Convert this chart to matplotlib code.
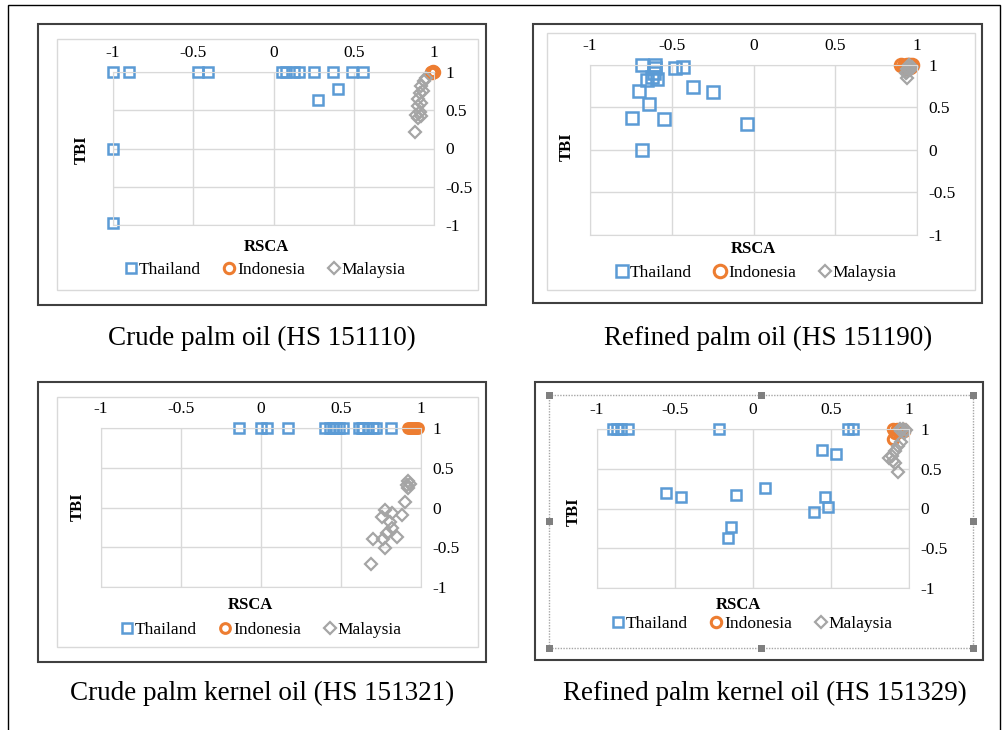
import matplotlib
matplotlib.use("Agg")
import matplotlib.pyplot as plt
from matplotlib.patches import Rectangle

plt.rcParams['font.family'] = ['Liberation Serif', 'DejaVu Serif']
plt.rcParams['axes.unicode_minus'] = False

W, H = 1005, 730

ticks = [-1, -0.5, 0, 0.5, 1]
tick_labels = ["-1", "-0.5", "0", "0.5", "1"]
countries = ["Thailand", "Indonesia", "Malaysia"]
captions = ["Crude palm oil (HS 151110)", "Refined palm oil (HS 151190)",
            "Crude palm kernel oil (HS 151321)", "Refined palm kernel oil (HS 151329)"]

# crude palm oil
thai_cpo_x = [-1, -0.9, -0.47, -0.41, 0.05, 0.08, 0.13, 0.16, 0.25, 0.37, 0.49, 0.56, 0.28, 0.40, -1, -1]
thai_cpo_y = [1, 1, 1, 1, 1, 1, 1, 1, 1, 1, 1, 1, 0.63, 0.78, 0, -0.97]
indo_cpo_x = [0.98, 0.985, 0.99, 0.995, 1.0, 0.99, 0.995]
indo_cpo_y = [1, 1, 1, 1, 1, 0.99, 1.01]
malay_cpo_x = [0.95, 0.94, 0.92, 0.93, 0.91, 0.90, 0.92, 0.90, 0.91, 0.89, 0.90, 0.92, 0.88]
malay_cpo_y = [0.92, 0.88, 0.82, 0.75, 0.72, 0.65, 0.60, 0.55, 0.48, 0.44, 0.40, 0.42, 0.21]

# refined palm oil
thai_rpo_x = [-0.68, -0.60, -0.60, -0.61, -0.62, -0.59, -0.65, -0.48, -0.43, -0.37, -0.25,
              -0.70, -0.64, -0.745, -0.55, -0.04, -0.68]
thai_rpo_y = [1.0, 1.0, 0.96, 0.90, 0.86, 0.83, 0.82, 0.96, 0.98, 0.74, 0.68,
              0.69, 0.54, 0.38, 0.36, 0.31, 0.0]
indo_rpo_x = [0.90, 0.92, 0.94, 0.96, 0.97, 0.93, 0.95]
indo_rpo_y = [1.0, 0.99, 1.0, 0.98, 1.0, 0.97, 1.0]
malay_rpo_x = [0.95, 0.96, 0.97, 0.95, 0.94, 0.96, 0.94, 0.93, 0.94]
malay_rpo_y = [1.0, 0.99, 0.98, 0.97, 0.95, 0.94, 0.92, 0.90, 0.85]

# crude palm kernel oil
thai_cpko_x = [-0.14, 0.0, 0.04, 0.17, 0.40, 0.43, 0.45, 0.47, 0.49, 0.51,
               0.61, 0.63, 0.64, 0.67, 0.70, 0.72, 0.81]
thai_cpko_y = [1] * 17
indo_cpko_x = [0.92, 0.93, 0.94, 0.95, 0.96, 0.97, 0.98]
indo_cpko_y = [1, 1, 1, 1, 1, 1, 1]
malay_cpko_x = [0.92, 0.93, 0.91, 0.92, 0.90, 0.775, 0.754, 0.817, 0.879, 0.806,
                0.817, 0.786, 0.848, 0.70, 0.764, 0.775, 0.69]
malay_cpko_y = [0.33, 0.30, 0.28, 0.25, 0.065, -0.03, -0.115, -0.075, -0.095, -0.18,
                -0.26, -0.325, -0.37, -0.40, -0.39, -0.51, -0.71]

# refined palm kernel oil
thai_rpko_x = [-0.90, -0.87, -0.845, -0.80, -0.22, 0.61, 0.64, 0.44, 0.53, -0.56, -0.46,
               -0.11, 0.08, 0.46, 0.48, 0.39, -0.14, -0.16]
thai_rpko_y = [1, 1, 1, 1, 1, 1, 1, 0.73, 0.69, 0.19, 0.15,
               0.17, 0.26, 0.15, 0.02, -0.04, -0.23, -0.37]
indo_rpko_x = [0.90, 0.92, 0.94, 0.96, 0.97, 0.93, 0.91, 0.90]
indo_rpko_y = [1.0, 1.0, 0.99, 1.0, 0.98, 0.96, 0.95, 0.87]
malay_rpko_x = [0.94, 0.96, 0.98, 0.95, 0.97, 0.95, 0.93, 0.91, 0.89, 0.87, 0.90, 0.91, 0.93]
malay_rpko_y = [1.0, 1.0, 0.99, 0.97, 0.95, 0.84, 0.78, 0.72, 0.66, 0.63, 0.60, 0.57, 0.46]

blue, orange, grey = "#5b9bd5", "#ed7d31", "#a5a5a5"
gridc = "#d9d9d9"

fig = plt.figure(figsize=(W / 100, H / 100), dpi=100)


def fx(x):
    return x / W


def fy(y):
    return 1 - y / H


def box(x0, y0, x1, y1, **kw):
    fig.add_artist(Rectangle((fx(x0), fy(y1)), fx(x1) - fx(x0), fy(y0) - fy(y1),
                             transform=fig.transFigure, fill=False, **kw))


# outer frame
box(8, 5, 1000, 745, ec="black", lw=1)

panels = [
    dict(data=[(thai_cpo_x, thai_cpo_y), (indo_cpo_x, indo_cpo_y), (malay_cpo_x, malay_cpo_y)],
         outer=(38, 24, 486, 305), inner=(57, 39, 478, 290), plot=(113, 72, 434, 225),
         tbi=(82, 150), rsca=(266, 247), leg=(265, 270), cap=(262, 338), ms=(7.5, 7.5, 6)),
    dict(data=[(thai_rpo_x, thai_rpo_y), (indo_rpo_x, indo_rpo_y), (malay_rpo_x, malay_rpo_y)],
         outer=(533, 24, 982, 303), inner=(547, 33, 975, 290), plot=(590, 65, 917, 235),
         tbi=(567, 147), rsca=(753, 249), leg=(756, 273), cap=(768, 338), ms=(9, 9, 6)),
    dict(data=[(thai_cpko_x, thai_cpko_y), (indo_cpko_x, indo_cpko_y), (malay_cpko_x, malay_cpko_y)],
         outer=(38, 382, 486, 662), inner=(57, 397, 478, 647), plot=(101, 428, 421, 587),
         tbi=(78, 507), rsca=(250, 605), leg=(261, 630), cap=(262, 693), ms=(6.5, 7, 6.5)),
    dict(data=[(thai_rpko_x, thai_rpko_y), (indo_rpko_x, indo_rpko_y), (malay_rpko_x, malay_rpko_y)],
         outer=(535, 382, 983, 660), inner=(549, 395, 973, 648), plot=(597, 429, 909, 588),
         tbi=(574, 512), rsca=(738, 605), leg=(752, 624), cap=(765, 693), ms=(7.5, 7.5, 6)),
]

styles = [("s", blue, 1.8), ("o", orange, 2.2), ("D", grey, 1.6)]

for i, p in enumerate(panels):
    box(*p["outer"], ec="#404040", lw=1.5)
    if i == 3:
        box(*p["inner"], ec="#a6a6a6", lw=1, ls=(0, (1, 1)))
        x0, y0, x1, y1 = p["inner"]
        xm, ym = (x0 + x1) / 2, (y0 + y1) / 2
        for hx, hy in [(x0, y0), (xm, y0), (x1, y0), (x0, ym), (x1, ym), (x0, y1), (xm, y1), (x1, y1)]:
            fig.add_artist(Rectangle((fx(hx - 3.5), fy(hy + 3.5)), 7 / W, 7 / H,
                                     transform=fig.transFigure, fc="#7f7f7f", ec="none"))
    else:
        box(*p["inner"], ec=gridc, lw=1)

    x0, y0, x1, y1 = p["plot"]
    ax = fig.add_axes([fx(x0), fy(y1), (x1 - x0) / W, (y1 - y0) / H])
    ax.set_xlim(-1, 1)
    ax.set_ylim(-1, 1)
    ax.set_xticks(ticks)
    ax.set_xticklabels(tick_labels)
    ax.set_yticks(ticks)
    ax.set_yticklabels(tick_labels)
    ax.xaxis.tick_top()
    ax.yaxis.tick_right()
    ax.tick_params(length=0, labelsize=12.5, pad=8)
    ax.grid(True, color=gridc, lw=1)
    ax.set_axisbelow(True)
    for s in ax.spines.values():
        s.set_color(gridc)

    handles = []
    for (xs, ys), (m, c, mew), ms, name in zip(p["data"], styles, p["ms"], countries):
        h, = ax.plot(xs, ys, ls="none", marker=m, ms=ms, mfc="none", mec=c, mew=mew,
                     clip_on=False, label=name)
        handles.append(h)

    fig.text(fx(p["tbi"][0]), fy(p["tbi"][1]), "TBI", rotation=90, fontsize=12,
             fontweight="bold", ha="center", va="center")
    fig.text(fx(p["rsca"][0]), fy(p["rsca"][1]), "RSCA", fontsize=12,
             fontweight="bold", ha="center", va="center")
    fig.legend(handles=handles, loc="center", bbox_to_anchor=(fx(p["leg"][0]), fy(p["leg"][1])),
               ncol=3, frameon=False, fontsize=12.5, handlelength=0.7, handletextpad=0.1,
               columnspacing=1.3, borderpad=0, borderaxespad=0, markerscale=1.0)
    fig.text(fx(p["cap"][0]), fy(p["cap"][1]), captions[i], fontsize=19.5,
             ha="center", va="center")

fig.savefig("out.png", dpi=100)
